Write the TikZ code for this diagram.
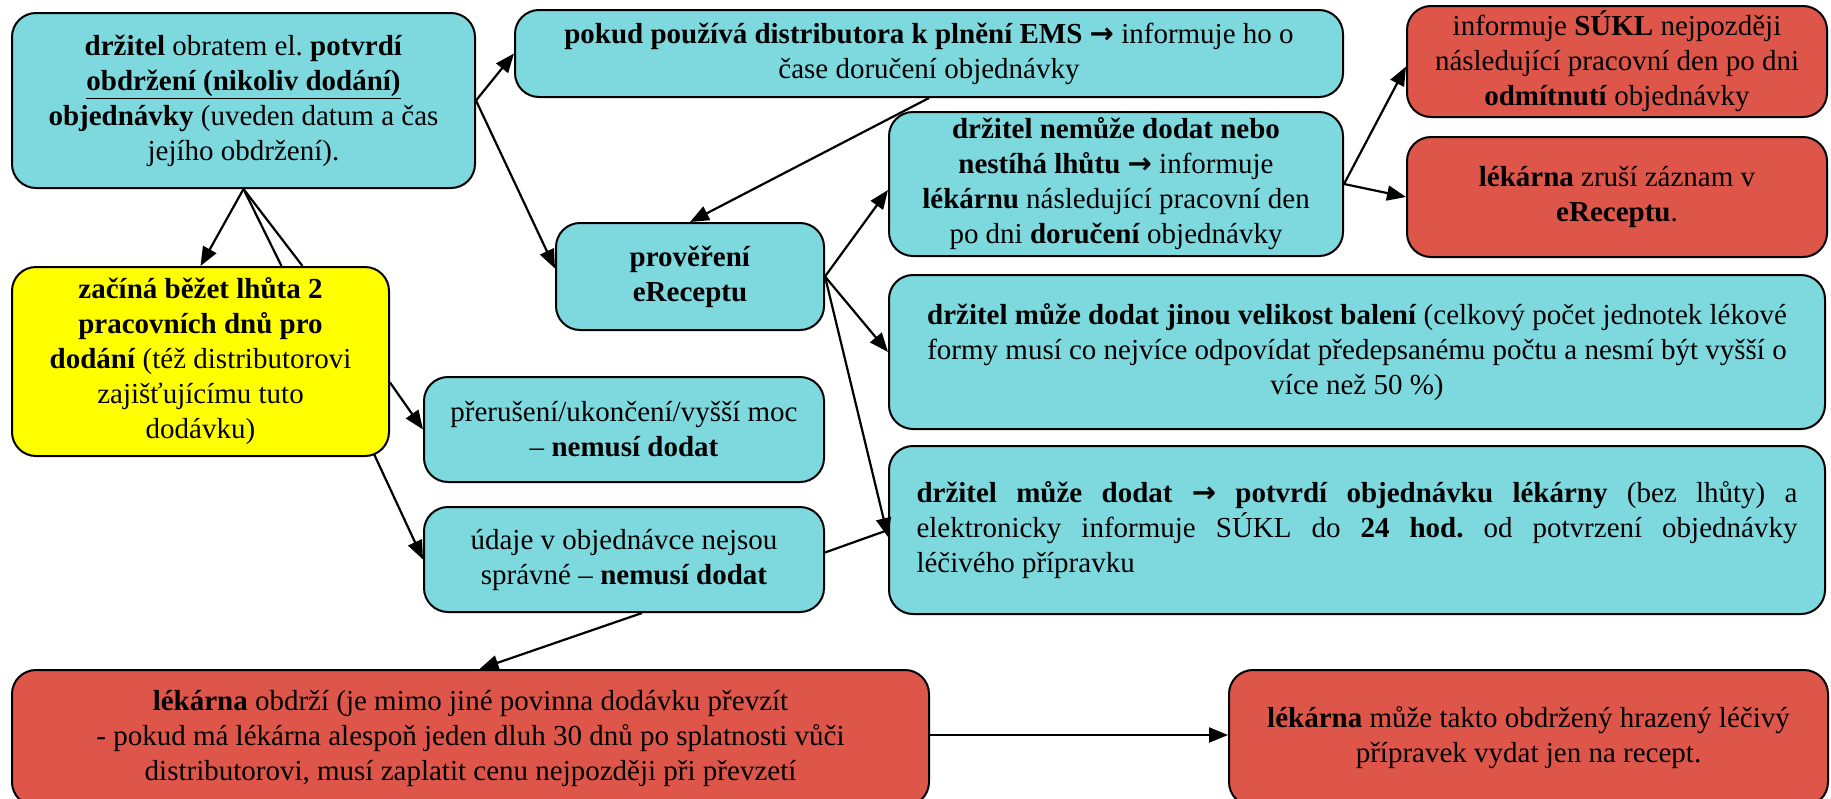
\documentclass[tikz,border=0pt]{standalone}
\usepackage{fontspec}
\setmainfont{Liberation Serif}
\newfontfamily\arrowfont{DejaVu Sans}
\usepackage{xcolor}
\usetikzlibrary{arrows.meta}

\definecolor{boxteal}{RGB}{126,217,222}
\definecolor{boxred}{RGB}{222,86,74}
\definecolor{boxyellow}{RGB}{255,255,0}
\newcommand{\thenarrow}{{\arrowfont\bfseries →}}
\frenchspacing

\begin{document}
\begin{tikzpicture}[x=1pt,y=-1pt,
            box/.style={draw, line width=2pt, rounded corners=24pt, align=center, inner sep=0pt,
                font=\fontsize{29}{35}\selectfont},
            tealbox/.style={box, fill=boxteal},
            redbox/.style={box, fill=boxred},
            yellowbox/.style={box, fill=boxyellow},
            conn/.style={line width=2.2pt, -{Triangle[length=19pt,width=15pt]}},
            plain/.style={line width=2.2pt}]
        \useasboundingbox (0,0) rectangle (1831,798);
        \clip (0,0) rectangle (1831,798);

        \node[tealbox, minimum width=463pt, minimum height=175pt] (obdrzeni) at (243.5,100.5)
            {\textbf{držitel} obratem el. \textbf{potvrdí}\\ \textbf{\underline{obdržení (nikoliv dodání)}}\\
             \textbf{objednávky} (uveden datum a čas\\ jejího obdržení).};
        \node[tealbox, minimum width=828pt, minimum height=87pt] (distributor) at (929,53.5)
            {\textbf{pokud používá distributora k plnění EMS \thenarrow} informuje ho o\\ čase doručení objednávky};
        \node[tealbox, minimum width=454pt, minimum height=144pt] (nemuze) at (1116,184)
            {\textbf{držitel nemůže dodat nebo}\\ \textbf{nestíhá lhůtu \thenarrow} informuje\\
             \textbf{lékárnu} následující pracovní den\\ po dni \textbf{doručení} objednávky};
        \node[redbox, minimum width=420pt, minimum height=111pt] (sukl) at (1617,61.5)
            {informuje \textbf{SÚKL} nejpozději\\ následující pracovní den po dni\\ \textbf{odmítnutí} objednávky};
        \node[redbox, minimum width=420pt, minimum height=120pt] (zrusi) at (1617,197)
            {\textbf{lékárna} zruší záznam v\\ \textbf{eReceptu}.};
        \node[tealbox, minimum width=268pt, minimum height=107pt] (overeni) at (690,276.5)
            {\textbf{prověření}\\ \textbf{eReceptu}};
        \node[yellowbox, minimum width=377pt, minimum height=189pt] (lhuta) at (200.5,361.5)
            {\textbf{začíná běžet lhůta 2}\\ \textbf{pracovních dnů pro}\\ \textbf{dodání} (též distributorovi\\
             zajišťujícímu tuto\\ dodávku)};
        \node[tealbox, minimum width=400pt, minimum height=105pt] (preruseni) at (624,429.5)
            {přerušení/ukončení/vyšší moc\\ – \textbf{nemusí dodat}};
        \node[tealbox, minimum width=400pt, minimum height=105pt] (udaje) at (624,559.5)
            {údaje v objednávce nejsou\\ správné – \textbf{nemusí dodat}};
        \node[tealbox, minimum width=936pt, minimum height=154pt] (baleni) at (1357,352)
            {\textbf{držitel může dodat jinou velikost balení} (celkový počet jednotek lékové\\
             formy musí co nejvíce odpovídat předepsanému počtu a nesmí být vyšší o\\ více než 50 \%)};
        \node[tealbox, minimum width=936pt, minimum height=168pt, text width=881pt, align=justify] (potvrdi) at (1357,530)
            {\textbf{držitel může dodat \thenarrow{} potvrdí objednávku lékárny} (bez lhůty) a\linebreak
             elektronicky informuje SÚKL do \textbf{24 hod.} od potvrzení objednávky\linebreak
             léčivého přípravku};
        \node[redbox, minimum width=917pt, minimum height=136pt] (obdrzi) at (470.5,738)
            {\textbf{lékárna} obdrží (je mimo jiné povinna dodávku převzít\\
             - pokud má lékárna alespoň jeden dluh 30 dnů po splatnosti vůči\\
             distributorovi, musí zaplatit cenu nejpozději při převzetí};
        \node[redbox, minimum width=599pt, minimum height=136pt] (recept) at (1528.5,738)
            {\textbf{lékárna} může takto obdržený hrazený léčivý\\ přípravek vydat jen na recept.};

        % connectors
        \draw[conn] (obdrzeni.east) -- (distributor.west);
        \draw[conn] (obdrzeni.east) -- ([yshift=8pt]overeni.west);
        \draw[conn] (distributor.south) -- (overeni.north);
        \draw[conn] (obdrzeni.south) -- (lhuta.north);
        \draw[plain] (obdrzeni.south) -- ([xshift=81pt]lhuta.north);
        \draw[plain] (obdrzeni.south) -- ([xshift=102pt]lhuta.north);
        \draw[conn] (overeni.east) -- ([yshift=-6pt]nemuze.west);
        \draw[conn] (overeni.east) -- (baleni.west);
        \draw[conn] (overeni.east) -- ([yshift=-7pt]potvrdi.west);
        \draw[conn] (nemuze.east) -- ([yshift=-5pt]sukl.west);
        \draw[conn] (nemuze.east) -- (zrusi.west);
        \draw[conn] ([yshift=-21pt]lhuta.east) -- (preruseni.west);
        \draw[conn] ([xshift=-16pt,yshift=3pt]lhuta.south east) -- (udaje.west);
        \draw[plain] ([yshift=7pt]udaje.east) -- (potvrdi.west);
        \draw[conn] ([xshift=18pt]udaje.south) -- ([xshift=9pt]obdrzi.north);
        \draw[conn] ([yshift=3pt]obdrzi.east) -- ([yshift=3pt]recept.west);
    \end{tikzpicture}
\end{document}
